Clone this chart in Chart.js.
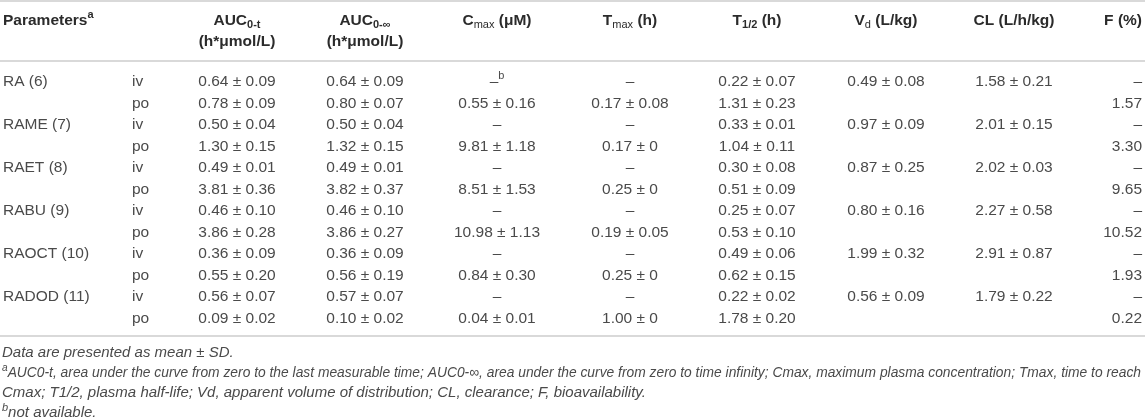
<!DOCTYPE html>
<html>
<head>
<meta charset="utf-8">
<script src="https://cdn.jsdelivr.net/npm/chart.js@4.4.1/dist/chart.umd.min.js"></script>
<style>
html, body { margin: 0; padding: 0; background: #fff; }
#wrap { width: 1145px; height: 420px; position: relative; }
</style>
</head>
<body>
<div id="wrap"><canvas id="pkTable"></canvas></div>
<script>
// table data (one entry per row: iv, po for each compound)
const compounds = ['RA (6)', 'RAME (7)', 'RAET (8)', 'RABU (9)', 'RAOCT (10)', 'RADOD (11)'];
const routes = ['iv', 'po'];

// null = "–" (not available), undefined = empty cell
const aucTMean = [0.64, 0.78, 0.50, 1.30, 0.49, 3.81, 0.46, 3.86, 0.36, 0.55, 0.56, 0.09];
const aucTSd   = [0.09, 0.09, 0.04, 0.15, 0.01, 0.36, 0.10, 0.28, 0.09, 0.20, 0.07, 0.02];
const aucInfMean = [0.64, 0.80, 0.50, 1.32, 0.49, 3.82, 0.46, 3.86, 0.36, 0.56, 0.57, 0.10];
const aucInfSd   = [0.09, 0.07, 0.04, 0.15, 0.01, 0.37, 0.10, 0.27, 0.09, 0.19, 0.07, 0.02];
const cmaxMean = [null, 0.55, null, 9.81, null, 8.51, null, 10.98, null, 0.84, null, 0.04];
const cmaxSd   = [null, 0.16, null, 1.18, null, 1.53, null, 1.13, null, 0.30, null, 0.01];
const cmaxNotes = ['b', '', '', '', '', '', '', '', '', '', '', ''];
const tmaxMean = [null, 0.17, null, 0.17, null, 0.25, null, 0.19, null, 0.25, null, 1.00];
const tmaxSd   = [null, 0.08, null, 0, null, 0, null, 0.05, null, 0, null, 0];
const thalfMean = [0.22, 1.31, 0.33, 1.04, 0.30, 0.51, 0.25, 0.53, 0.49, 0.62, 0.22, 1.78];
const thalfSd   = [0.07, 0.23, 0.01, 0.11, 0.08, 0.09, 0.07, 0.10, 0.06, 0.15, 0.02, 0.20];
const vdMean = [0.49, undefined, 0.97, undefined, 0.87, undefined, 0.80, undefined, 1.99, undefined, 0.56, undefined];
const vdSd   = [0.08, undefined, 0.09, undefined, 0.25, undefined, 0.16, undefined, 0.32, undefined, 0.09, undefined];
const clMean = [1.58, undefined, 2.01, undefined, 2.02, undefined, 2.27, undefined, 2.91, undefined, 1.79, undefined];
const clSd   = [0.21, undefined, 0.15, undefined, 0.03, undefined, 0.58, undefined, 0.87, undefined, 0.22, undefined];
const fValues = [null, 1.57, null, 3.30, null, 9.65, null, 10.52, null, 1.93, null, 0.22];

// header labels: [text, kind, bold]
const headerParam = [['Parameters', 'n'], ['a', 'sup']];
const headerAucT = [['AUC', 'n'], ['0-t', 'sub']];
const headerAucInf = [['AUC', 'n'], ['0-\u221E', 'sub']];
const headerUnitAuc = [['(h*\u03BCmol/L)', 'n']];
const headerCmax = [['C', 'n'], ['max', 'sub', false], [' (\u03BCM)', 'n']];
const headerTmax = [['T', 'n'], ['max', 'sub', false], [' (h)', 'n']];
const headerThalf = [['T', 'n'], ['1/2', 'sub'], [' (h)', 'n']];
const headerVd = [['V', 'n'], ['d', 'sub', false], [' (L/kg)', 'n']];
const headerCl = [['CL (L/h/kg)', 'n']];
const headerF = [['F (%)', 'n']];

const footnotes = [
  [['Data are presented as mean \u00B1 SD.', 'n']],
  [['a', 'sup'], ['AUC0-t, area under the curve from zero to the last measurable time; AUC0-\u221E, area under the curve from zero to time infinity; Cmax, maximum plasma concentration; Tmax, time to reach', 'n']],
  [['Cmax; T1/2, plasma half-life; Vd, apparent volume of distribution; CL, clearance; F, bioavailability.', 'n']],
  [['b', 'sup'], ['not available.', 'n']]
];

// layout
const W = 1145, H = 420;
const ROW0 = 82, ROWH = 21.5;
const rowAt = px => (px - ROW0) / ROWH;
const FONT = '"Liberation Sans", Arial, Helvetica, sans-serif';
const BODY_SIZE = 15.5, FOOT_SIZE = 15;

function fmt(m, s) {
  if (m === undefined) return '';
  if (m === null) return '\u2013';
  if (s === undefined) return m.toFixed(2);
  return m.toFixed(2) + ' \u00B1 ' + (s === 0 ? '0' : s.toFixed(2));
}

const nRows = compounds.length * routes.length;
const rowIdx = Array.from({length: nRows}, (_, i) => i);

const columns = [
  {x: 3,    align: 'left',   head: [headerParam],
   cells: rowIdx.map(i => i % 2 === 0 ? compounds[i / 2] : '')},
  {x: 132,  align: 'left',   head: [],
   cells: rowIdx.map(i => routes[i % 2])},
  {x: 237,  align: 'center', head: [headerAucT, headerUnitAuc],
   cells: rowIdx.map(i => fmt(aucTMean[i], aucTSd[i]))},
  {x: 365,  align: 'center', head: [headerAucInf, headerUnitAuc],
   cells: rowIdx.map(i => fmt(aucInfMean[i], aucInfSd[i]))},
  {x: 497,  align: 'center', head: [headerCmax],
   cells: rowIdx.map(i => fmt(cmaxMean[i], cmaxSd[i])), notes: cmaxNotes},
  {x: 630,  align: 'center', head: [headerTmax],
   cells: rowIdx.map(i => fmt(tmaxMean[i], tmaxSd[i]))},
  {x: 757,  align: 'center', head: [headerThalf],
   cells: rowIdx.map(i => fmt(thalfMean[i], thalfSd[i]))},
  {x: 886,  align: 'center', head: [headerVd],
   cells: rowIdx.map(i => fmt(vdMean[i], vdSd[i]))},
  {x: 1014, align: 'center', head: [headerCl],
   cells: rowIdx.map(i => fmt(clMean[i], clSd[i]))},
  {x: 1142, align: 'right',  head: [headerF],
   cells: rowIdx.map(i => fmt(fValues[i]))}
];

// draws text made of normal / sub / sup pieces
function drawRich(ctx, parts, x, y, align, size, bold, italic, color, maxW) {
  const small = Math.round(size * 0.72);
  const fontOf = (p) => {
    const b = (p[2] === undefined ? bold : p[2]) ? 'bold ' : '';
    const it = italic ? 'italic ' : '';
    return it + b + (p[1] === 'n' ? size : small) + 'px ' + FONT;
  };
  let total = 0;
  const widths = parts.map(p => { ctx.font = fontOf(p); const w = ctx.measureText(p[0]).width; total += w; return w; });
  let sx = 1;
  if (maxW && total > maxW) sx = maxW / total;
  let start = x;
  if (align === 'center') start = x - total * sx / 2;
  else if (align === 'right') start = x - total * sx;
  ctx.save();
  ctx.fillStyle = color;
  ctx.textBaseline = 'middle';
  ctx.textAlign = 'left';
  ctx.translate(start, y);
  ctx.scale(sx, 1);
  let cx = 0;
  parts.forEach((p, k) => {
    ctx.font = fontOf(p);
    let dy = 0;
    if (p[1] === 'sub') dy = size * 0.28;
    if (p[1] === 'sup') dy = -size * 0.36;
    ctx.fillText(p[0], cx, dy);
    cx += widths[k];
  });
  ctx.restore();
}

const tablePlugin = {
  id: 'tableText',
  beforeDatasetsDraw(chart) {
    const {ctx, scales: {x, y}} = chart;
    ctx.save();
    ctx.strokeStyle = '#d9d9d9';
    ctx.lineWidth = 2;
    [rowAt(1), rowAt(61), rowAt(336)].forEach(v => {
      const py = y.getPixelForValue(v);
      ctx.beginPath();
      ctx.moveTo(x.getPixelForValue(0), py);
      ctx.lineTo(x.getPixelForValue(W), py);
      ctx.stroke();
    });
    ctx.restore();
  },
  afterDatasetsDraw(chart) {
    const {ctx, scales: {x, y}} = chart;
    // header
    const headY = [rowAt(21), rowAt(42)];
    columns.forEach(col => {
      col.head.forEach((parts, k) => {
        drawRich(ctx, parts, x.getPixelForValue(col.x), y.getPixelForValue(headY[k]),
                 col.align, BODY_SIZE, true, false, '#2b2b2b');
      });
    });
    // body cells, placed at each point of the column's dataset
    chart.data.datasets.forEach((ds, di) => {
      const meta = chart.getDatasetMeta(di);
      const col = columns[di];
      meta.data.forEach((pt, i) => {
        const txt = ds.cells[i];
        if (!txt) return;
        const parts = [[txt, 'n']];
        if (col.notes && col.notes[i]) parts.push([col.notes[i], 'sup']);
        drawRich(ctx, parts, pt.x, pt.y, col.align, BODY_SIZE, false, false, '#4a4a4a');
      });
    });
    // footnotes
    const footY = [353, 373, 393, 413];
    footnotes.forEach((parts, k) => {
      drawRich(ctx, parts, x.getPixelForValue(2), y.getPixelForValue(rowAt(footY[k])),
               'left', FOOT_SIZE, false, true, '#4a4a4a', 1139);
    });
  }
};

new Chart(document.getElementById('pkTable'), {
  type: 'scatter',
  data: {
    datasets: columns.map(col => ({
      data: rowIdx.map(i => ({x: col.x, y: i})),
      cells: col.cells,
      pointRadius: 0,
      pointHoverRadius: 0
    }))
  },
  options: {
    responsive: true,
    maintainAspectRatio: false,
    animation: false,
    events: [],
    layout: {padding: 0},
    plugins: {legend: {display: false}, tooltip: {enabled: false}},
    scales: {
      x: {type: 'linear', display: false, min: 0, max: W},
      y: {type: 'linear', display: false, reverse: true, min: rowAt(0), max: rowAt(H)}
    }
  },
  plugins: [tablePlugin]
});
</script>
</body>
</html>
